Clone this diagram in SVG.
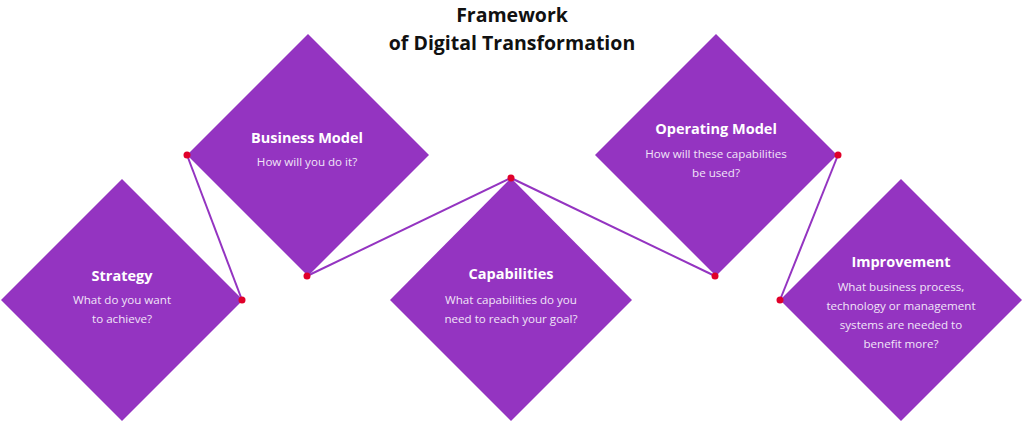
<svg xmlns="http://www.w3.org/2000/svg" width="1024" height="422" viewBox="0 0 1024 422">
<style>
.d{fill:#9434c1}
.t{font-family:"Open Sans","Liberation Sans",sans-serif;font-weight:700;font-size:14.5px;fill:#fff;text-anchor:middle}
.s{font-family:"Open Sans","Liberation Sans",sans-serif;font-size:11.6px;fill:#f1e4f8;text-anchor:middle}
.h{font-family:"Open Sans","Liberation Sans",sans-serif;font-weight:700;font-size:19.5px;fill:#111;text-anchor:middle}
.c line{stroke:#9434c1;stroke-width:2}
.c circle{fill:#e0002a}
</style>
<rect width="1024" height="422" fill="#fff"/>
<g id="title">
<text class="h" x="512" y="22">Framework</text>
<text class="h" x="512" y="50">of Digital Transformation</text>
</g>
<g id="strategy">
<polygon class="d" points="122,179 243,300 122,421 1,300"/>
<text class="t" x="122" y="281">Strategy</text>
<text class="s" x="122" y="304">What do you want</text>
<text class="s" x="122" y="323">to achieve?</text>
</g>
<g id="business-model">
<polygon class="d" points="308,34 429,155 308,276 187,155"/>
<text class="t" x="307" y="143">Business Model</text>
<text class="s" x="307" y="166">How will you do it?</text>
</g>
<g id="capabilities">
<polygon class="d" points="511,178 632,300 511,421 390,300"/>
<text class="t" x="511" y="279">Capabilities</text>
<text class="s" x="511" y="304">What capabilities do you</text>
<text class="s" x="511" y="323">need to reach your goal?</text>
</g>
<g id="operating-model">
<polygon class="d" points="716,34 837,155 716,276 595,155"/>
<text class="t" x="716" y="134">Operating Model</text>
<text class="s" x="716" y="158">How will these capabilities</text>
<text class="s" x="716" y="177">be used?</text>
</g>
<g id="improvement">
<polygon class="d" points="901,179 1022,300 901,421 780,300"/>
<text class="t" x="901" y="267">Improvement</text>
<text class="s" x="901" y="291">What business process,</text>
<text class="s" x="901" y="310">technology or management</text>
<text class="s" x="901" y="329">systems are needed to</text>
<text class="s" x="901" y="348">benefit more?</text>
</g>
<g id="connectors" class="c">
<line x1="187" y1="155" x2="242" y2="300"/>
<line x1="307" y1="276" x2="511" y2="178"/>
<line x1="511" y1="178" x2="715" y2="276"/>
<line x1="838" y1="155" x2="780" y2="300"/>
<circle cx="187" cy="155" r="3.5"/>
<circle cx="242" cy="300" r="3.5"/>
<circle cx="307" cy="276" r="3.5"/>
<circle cx="511" cy="178" r="3.5"/>
<circle cx="715" cy="276" r="3.5"/>
<circle cx="838" cy="155" r="3.5"/>
<circle cx="780" cy="300" r="3.5"/>
</g>
</svg>
